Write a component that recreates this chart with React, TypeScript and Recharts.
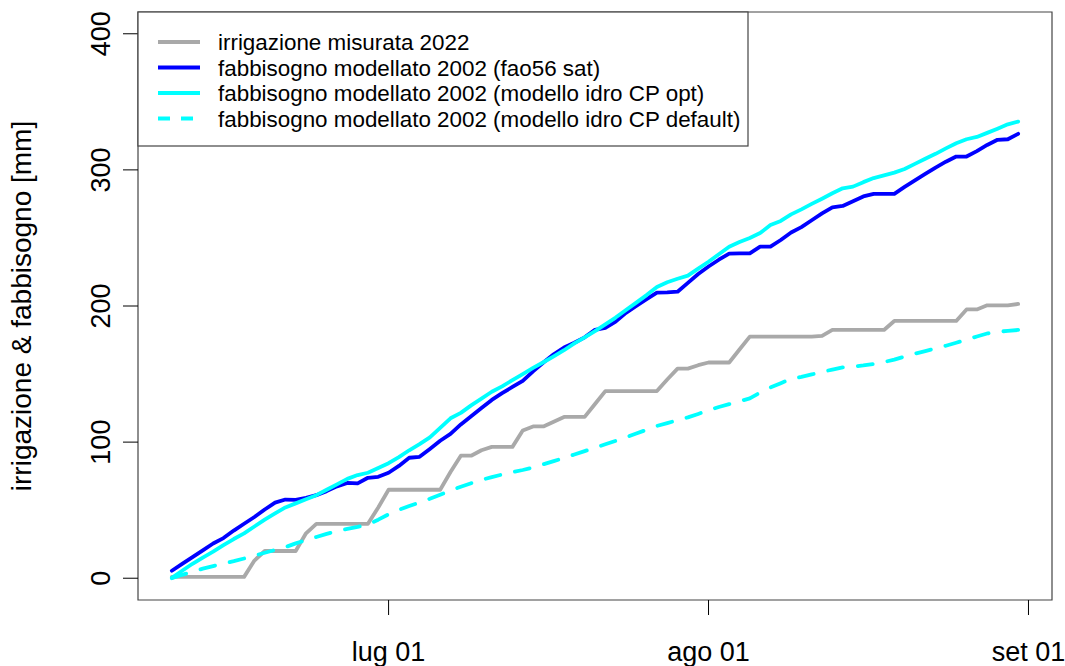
import React from 'react';
import { LineChart, Line, XAxis, YAxis, ReferenceArea } from 'recharts';

// day offsets from 1 July (Jun 10 .. Aug 31)
const dayOffsets = [
  -21, -20, -19, -18, -17, -16, -15, -14, -13, -12, -11, -10, -9, -8, -7, -6, -5, -4, -3, -2, -1,
  0, 1, 2, 3, 4, 5, 6, 7, 8, 9, 10, 11, 12, 13, 14, 15, 16, 17, 18, 19, 20, 21, 22, 23, 24, 25, 26, 27, 28, 29, 30,
  31, 32, 33, 34, 35, 36, 37, 38, 39, 40, 41, 42, 43, 44, 45, 46, 47, 48, 49, 50, 51, 52, 53, 54, 55, 56, 57, 58, 59, 60, 61,
];

const irrigazioneMisurata2022 = [
  1, 1, 1, 1, 1, 1, 1, 1, 13, 20, 20, 20, 20, 33, 40, 40, 40, 40, 40, 40, 52,
  65, 65, 65, 65, 65, 65, 78, 90, 90, 94, 96.5, 96.5, 96.5, 108.5, 111.5, 111.5, 115, 118.5, 118.5, 118.5, 128, 137.5, 137.5, 137.5, 137.5, 137.5, 137.5, 146, 154, 154, 156.5,
  158.5, 158.5, 158.5, 168, 177.5, 177.5, 177.5, 177.5, 177.5, 177.5, 177.5, 178, 182.4, 182.4, 182.4, 182.4, 182.4, 182.4, 189, 189, 189, 189, 189, 189, 189, 197.5, 197.5, 200.5, 200.5, 200.5, 201.5,
];

const fao56Sat2002 = [
  5.5, 10.5, 15.5, 20.5, 25.5, 29.5, 35, 40, 45, 50.5, 55.5, 57.8, 57.5, 59, 61, 64, 67.5, 70, 69.7, 73.8, 74.5,
  77.5, 82.5, 88.5, 89.2, 95, 101, 106, 113, 119, 125, 131, 136, 140.5, 145, 152, 158.5, 164.5, 169.5, 173, 177, 182.5, 184, 188.5, 195, 200, 205, 209.8, 210, 210.5, 217, 223.5,
  229, 234, 238.5, 238.7, 238.7, 243.6, 243.6, 248.5, 254, 258, 263, 268, 272.5, 273.5, 277, 280.5, 282.4, 282.4, 282.4, 287.5, 292.3, 297, 301.7, 306, 309.8, 309.8, 313.8, 318.3, 322.1, 322.5, 326.5,
];

const idroCpOpt2002 = [
  0.3, 5.5, 10.6, 15.2, 19.5, 24.3, 28.8, 33, 38, 43, 47.6, 52, 55, 58, 61, 65, 69, 73, 75.8, 77.5, 81,
  84.5, 89, 94, 98.5, 103.5, 110.5, 117.5, 121.5, 127, 132, 137, 141, 145.5, 150, 154.5, 158.7, 163, 167.5, 172.5, 177, 181.5, 186.5, 191.5, 197, 202.5, 208, 214, 217.5, 220, 222.3, 227.5,
  232.5, 238, 243.5, 247, 250, 253.6, 259.5, 262.5, 267.3, 271, 275, 278.8, 282.8, 286.5, 287.7, 291, 294, 296, 298, 300.7, 304.4, 308.2, 311.8, 315.8, 319.6, 322.5, 324.2, 327.2, 330.3, 333.5, 335.5,
];

const idroCpDefault2002 = [
  0, 2.5, 4.8, 7, 8.9, 10.7, 12.5, 14.5, 16.6, 18.7, 20.8, 22.8, 25.6, 28, 30.3, 32.6, 34.6, 36.2, 37.7, 39.5, 43,
  47, 50.3, 53, 55.6, 58.4, 61.4, 64.4, 67.2, 69.8, 72.2, 74.3, 76.2, 77.9, 79.5, 81.4, 83.7, 86, 88.4, 90.9, 93.4, 95.9, 98.4, 100.9, 103.5, 106.3, 109.1, 111.9, 114, 116.1, 118.2, 120.7,
  123.3, 125.8, 127.9, 130, 132.1, 136.4, 140.1, 143.3, 146.4, 147.9, 149.7, 151.6, 153.3, 154.9, 155.5, 156.3, 157.4, 158.8, 160.6, 162.9, 165, 166.9, 168.8, 170.8, 173, 175.3, 177.6, 179.8, 181.1, 181.7, 182.4,
];

const xTickDays = [0, 31, 62];
const xTickLabels = ['lug 01', 'ago 01', 'set 01'];
const yTicks = [0, 100, 200, 300, 400];

const seriesNames = [
  'irrigazione misurata 2022',
  'fabbisogno modellato 2002 (fao56 sat)',
  'fabbisogno modellato 2002 (modello idro CP opt)',
  'fabbisogno modellato 2002 (modello idro CP default)',
];
const seriesColors = ['#A9A9A9', '#0000FF', '#00FFFF', '#00FFFF'];
const seriesDash = [undefined, undefined, undefined, '15 15'];

const X_DOMAIN: [number, number] = [-24.28, 64.28];
const Y_DOMAIN: [number, number] = [-16, 416];

const data = dayOffsets.map((d, i) => ({
  d,
  irr: irrigazioneMisurata2022[i],
  fao: fao56Sat2002[i],
  opt: idroCpOpt2002[i],
  def: idroCpDefault2002[i],
}));

const FONT = '"Liberation Sans", Arial, Helvetica, sans-serif';
const LW = 3.8;

const YTick = (props: any) => {
  const { x, y, payload } = props;
  return (
    <text x={x} y={y} transform={`rotate(-90 ${x} ${y})`} textAnchor="middle" fontSize={27} fontFamily={FONT} fill="#000">
      {payload.value}
    </text>
  );
};

const YTitle = () => (
  <text x={31} y={306} transform="rotate(-90 31 306)" textAnchor="middle" fontSize={28} fontFamily={FONT} fill="#000">
    irrigazione &amp; fabbisogno [mm]
  </text>
);

const Legend = () => {
  const rowsY = [42, 67.5, 93, 118.5];
  return (
    <svg width={1065} height={666} style={{ position: 'absolute', left: 0, top: 0, pointerEvents: 'none' }}>
      <rect x={138} y={12} width={610} height={134} fill="#fff" stroke="#444" strokeWidth={1.2} />
      {seriesNames.map((name, i) => (
        <g key={name}>
          <line
            x1={158}
            x2={200}
            y1={rowsY[i]}
            y2={rowsY[i]}
            stroke={seriesColors[i]}
            strokeWidth={LW}
            strokeDasharray={seriesDash[i] ? '12 11' : undefined}
          />
          <text x={218} y={rowsY[i]} dy="0.36em" fontSize={22.4} fontFamily={FONT} fill="#000">
            {name}
          </text>
        </g>
      ))}
    </svg>
  );
};

export default function App() {
  return (
    <div style={{ position: 'absolute', left: 0, top: 0, width: 1065, height: 666, background: '#fff' }}>
      <LineChart width={1065} height={666} data={data} margin={{ top: 12, right: 13, left: 0, bottom: 0 }}>
        <XAxis
          dataKey="d"
          type="number"
          domain={X_DOMAIN}
          ticks={xTickDays}
          tickFormatter={(v: number) => xTickLabels[xTickDays.indexOf(v)]}
          allowDataOverflow
          axisLine={false}
          tickSize={15}
          tickMargin={27}
          tickLine={{ stroke: '#000', strokeWidth: 1 }}
          tick={{ fontSize: 27, fill: '#000', fontFamily: FONT }}
          height={66}
          interval={0}
        />
        <YAxis
          type="number"
          domain={Y_DOMAIN}
          ticks={yTicks}
          allowDataOverflow
          axisLine={false}
          tickSize={15}
          tickMargin={13}
          tickLine={{ stroke: '#000', strokeWidth: 1 }}
          tick={<YTick />}
          width={138}
          interval={0}
          label={() => <YTitle />}
        />
        <ReferenceArea
          x1={X_DOMAIN[0]}
          x2={X_DOMAIN[1]}
          y1={Y_DOMAIN[0]}
          y2={Y_DOMAIN[1]}
          fill="none"
          fillOpacity={0}
          stroke="#444"
          strokeWidth={1.2}
          ifOverflow="visible"
        />
        <Line dataKey="irr" type="linear" stroke={seriesColors[0]} strokeWidth={LW} dot={false} activeDot={false} isAnimationActive={false} strokeLinejoin="round" strokeLinecap="round" />
        <Line dataKey="fao" type="linear" stroke={seriesColors[1]} strokeWidth={LW} dot={false} activeDot={false} isAnimationActive={false} strokeLinejoin="round" strokeLinecap="round" />
        <Line dataKey="opt" type="linear" stroke={seriesColors[2]} strokeWidth={LW} dot={false} activeDot={false} isAnimationActive={false} strokeLinejoin="round" strokeLinecap="round" />
        <Line dataKey="def" type="linear" stroke={seriesColors[3]} strokeWidth={LW} strokeDasharray={seriesDash[3]} dot={false} activeDot={false} isAnimationActive={false} strokeLinejoin="round" strokeLinecap="round" />
      </LineChart>
      <Legend />
    </div>
  );
}
